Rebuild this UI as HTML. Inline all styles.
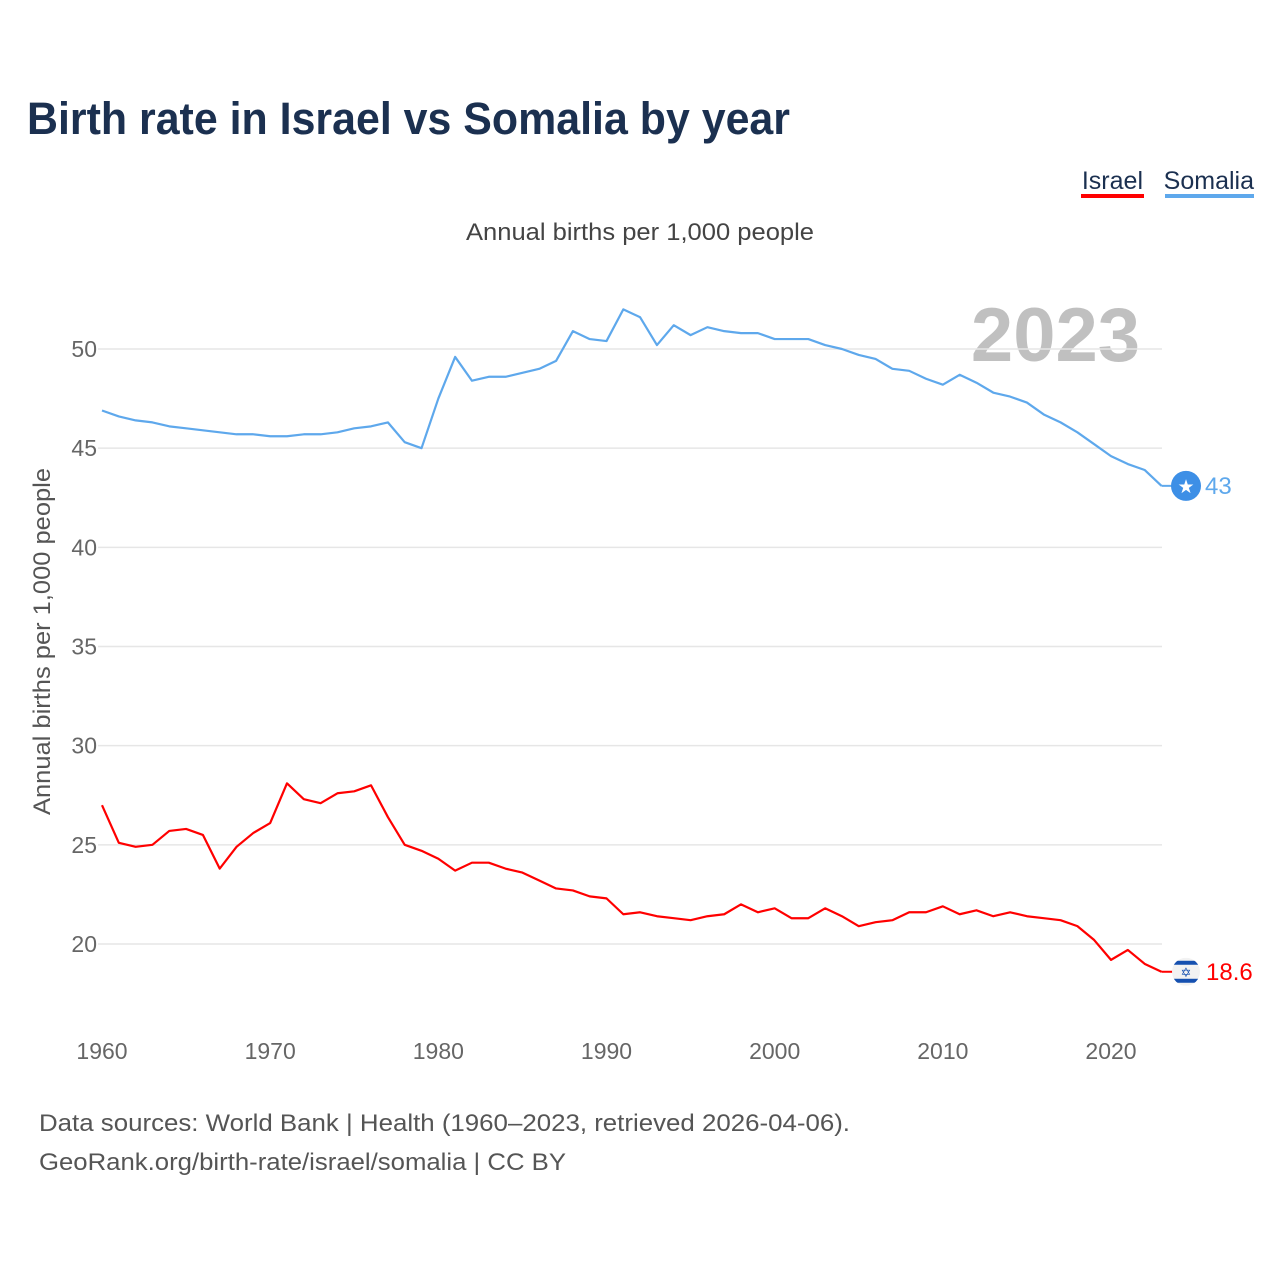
<!DOCTYPE html>
<html><head><meta charset="utf-8"><style>
body{margin:0;background:#fff;font-family:"Liberation Sans",sans-serif}
#c{position:relative;width:1280px;height:1280px}
</style></head><body>
<div id="c">
<svg id="s" width="1280" height="1280" style="position:absolute;left:0;top:0">
<text x="27" y="134" font-size="45" font-weight="bold" fill="#1b3050" textLength="763" lengthAdjust="spacingAndGlyphs">Birth rate in Israel vs Somalia by year</text>
<g><text x="1143" y="189" font-size="25" fill="#1b3050" text-anchor="end">Israel</text><rect x="1081" y="194" width="63" height="4" fill="#ff0000"/></g>
<g><text x="1254" y="189" font-size="25" fill="#1b3050" text-anchor="end">Somalia</text><rect x="1165" y="194" width="89" height="4" fill="#5ea8ec"/></g>
<text x="466" y="240" font-size="24" fill="#444" textLength="348" lengthAdjust="spacingAndGlyphs">Annual births per 1,000 people</text>
<text x="1140" y="361" font-size="76" font-weight="bold" fill="#c0c0c0" text-anchor="end">2023</text>
<text transform="translate(50,815) rotate(-90)" font-size="24" fill="#555" textLength="347" lengthAdjust="spacingAndGlyphs">Annual births per 1,000 people</text>
<g id="grid"></g><g id="lines"></g>
<text x="39" y="1131" font-size="24" fill="#555" textLength="811" lengthAdjust="spacingAndGlyphs">Data sources: World Bank | Health (1960–2023, retrieved 2026-04-06).</text>
<text x="39" y="1170" font-size="24" fill="#555" textLength="527" lengthAdjust="spacingAndGlyphs">GeoRank.org/birth-rate/israel/somalia | CC BY</text>
</svg></div>
<script>
const years=[];for(let y=1960;y<=2023;y++)years.push(y);
const somalia=[46.9,46.6,46.4,46.3,46.1,46.0,45.9,45.8,45.7,45.7,45.6,45.6,45.7,45.7,45.8,46.0,46.1,46.3,45.3,45.0,47.5,49.6,48.4,48.6,48.6,48.8,49.0,49.4,50.9,50.5,50.4,52.0,51.6,50.2,51.2,50.7,51.1,50.9,50.8,50.8,50.5,50.5,50.5,50.2,50.0,49.7,49.5,49.0,48.9,48.5,48.2,48.7,48.3,47.8,47.6,47.3,46.7,46.3,45.8,45.2,44.6,44.2,43.9,43.1];
const israel=[27.0,25.1,24.9,25.0,25.7,25.8,25.5,23.8,24.9,25.6,26.1,28.1,27.3,27.1,27.6,27.7,28.0,26.4,25.0,24.7,24.3,23.7,24.1,24.1,23.8,23.6,23.2,22.8,22.7,22.4,22.3,21.5,21.6,21.4,21.3,21.2,21.4,21.5,22.0,21.6,21.8,21.3,21.3,21.8,21.4,20.9,21.1,21.2,21.6,21.6,21.9,21.5,21.7,21.4,21.6,21.4,21.3,21.2,20.9,20.2,19.2,19.7,19.0,18.6];
const yTicks=[20,25,30,35,40,45,50];
const xTicks=[1960,1970,1980,1990,2000,2010,2020];
const lastLabels=["43","18.6"];
const NS="http://www.w3.org/2000/svg";
const X=v=>102+(v-1960)*(1111-102)/60;
const Y=v=>944-(v-20)*(944-349)/30;
function mk(t,a,p){const e=document.createElementNS(NS,t);for(const k in a)e.setAttribute(k,a[k]);p.appendChild(e);return e;}
const g=document.getElementById('grid'),L=document.getElementById('lines');
yTicks.forEach(v=>{
 const l=mk('line',{x1:98,x2:1162,y1:Y(v),y2:Y(v),stroke:'#e6e6e6','stroke-width':1.5},g);
 
 
 const t=mk('text',{x:97,y:Y(v)+8,'font-size':23,fill:'#666','text-anchor':'end'},g);t.textContent=v;
 
 
});
xTicks.forEach(v=>{
 const t=mk('text',{x:X(v),y:1059,'font-size':23,fill:'#666','text-anchor':'middle'},g);t.textContent=v;
 
 
});
function line(data,col,name){
 const p=mk('polyline',{points:data.map((v,i)=>X(years[i])+','+Y(v)).join(' '),fill:'none',stroke:col,'stroke-width':2.2,'stroke-linejoin':'round'},L);
 
 
}
line(somalia,'#5ea8ec','somalia-line');
line(israel,'#ff0000','israel-line');
const ls=somalia[somalia.length-1],li=israel[israel.length-1],xe=X(2023);
mk('line',{x1:xe,x2:xe+12,y1:Y(ls),y2:Y(ls),stroke:'#5ea8ec','stroke-width':2},L);
mk('line',{x1:xe,x2:xe+12,y1:Y(li),y2:Y(li),stroke:'#ff0000','stroke-width':2},L);
const sm=mk('g',{},L);


mk('circle',{cx:1186,cy:Y(ls),r:15,fill:'#3d8fe6'},sm);
const st=mk('text',{x:1186,y:Y(ls)+7,'font-size':19,fill:'#fff','text-anchor':'middle',"font-family":"DejaVu Sans"},sm);st.textContent='★';
const t1=mk('text',{x:1205,y:Y(ls)+8,'font-size':24,fill:'#5ea8ec'},L);t1.textContent=lastLabels[0];


const im=mk('g',{},L);


const cy=Y(li);
mk('clipPath',{id:'cp'},im);
mk('circle',{cx:1186,cy:cy,r:14},document.getElementById('cp'));
mk('rect',{x:1172,y:cy-14,width:28,height:28,fill:'#f2f2f2','clip-path':'url(#cp)'},im);
mk('rect',{x:1172,y:cy-11,width:28,height:4,fill:'#1550b0','clip-path':'url(#cp)'},im);
mk('rect',{x:1172,y:cy+7,width:28,height:4,fill:'#1550b0','clip-path':'url(#cp)'},im);
const sd=mk('text',{x:1186,y:cy+5,'font-size':13,fill:'#1550b0','text-anchor':'middle',"font-family":"DejaVu Sans"},im);sd.textContent='✡';
const t2=mk('text',{x:1206,y:cy+8,'font-size':24,fill:'#ff0000'},L);t2.textContent=lastLabels[1];


</script>
</body></html>
